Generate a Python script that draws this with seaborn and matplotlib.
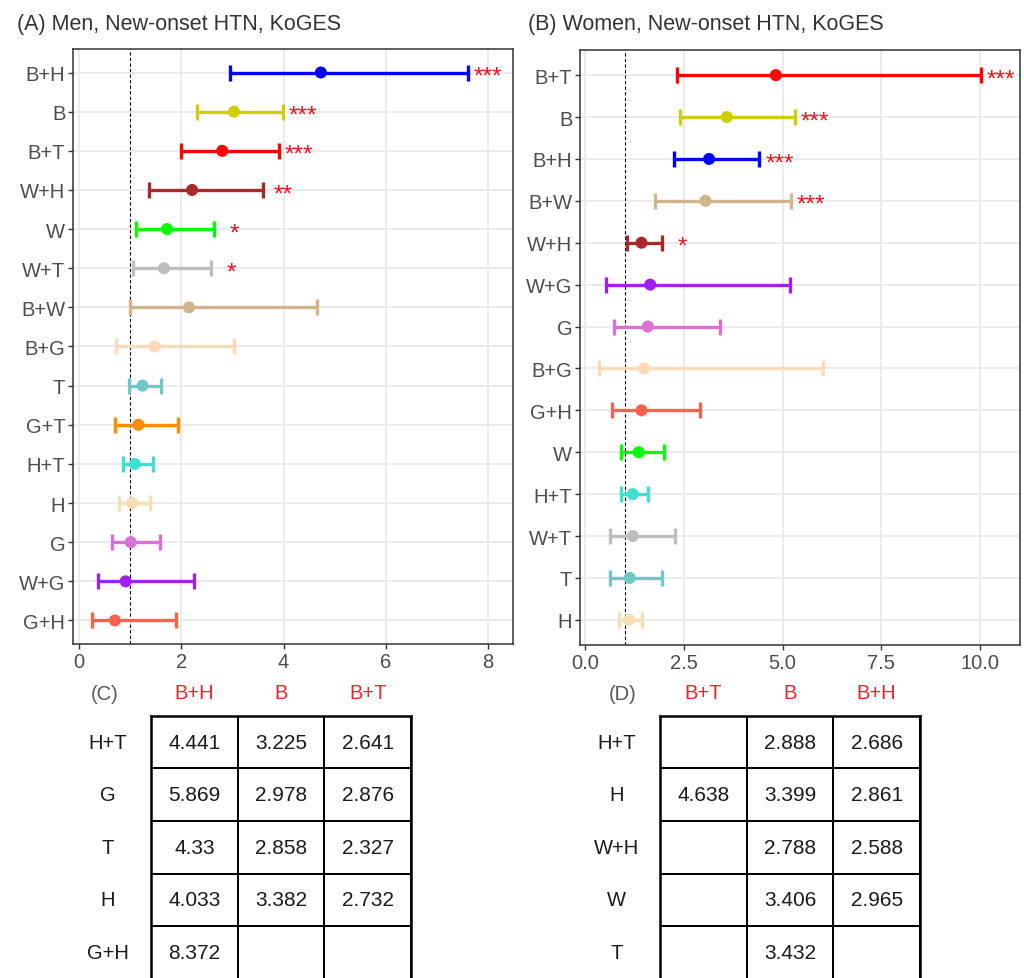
import numpy as np
import pandas as pd
import matplotlib
matplotlib.use('Agg')
import matplotlib.pyplot as plt
import seaborn as sns
from matplotlib.colors import ListedColormap

# (A) Men
men_labels = ['B+H', 'B', 'B+T', 'W+H', 'W', 'W+T', 'B+W', 'B+G', 'T', 'G+T', 'H+T', 'H', 'G', 'W+G', 'G+H']
men_or = [4.73, 3.03, 2.80, 2.21, 1.72, 1.66, 2.15, 1.48, 1.24, 1.16, 1.09, 1.04, 1.01, 0.91, 0.70]
men_low = [2.95, 2.30, 2.00, 1.36, 1.12, 1.06, 0.99, 0.73, 0.97, 0.71, 0.86, 0.78, 0.65, 0.36, 0.25]
men_high = [7.61, 3.98, 3.91, 3.59, 2.64, 2.58, 4.65, 3.03, 1.61, 1.93, 1.44, 1.38, 1.59, 2.24, 1.89]
men_sig = ['***', '***', '***', '**', '*', '*', '', '', '', '', '', '', '', '', '']

# (B) Women
women_labels = ['B+T', 'B', 'B+H', 'B+W', 'W+H', 'W+G', 'G', 'B+G', 'G+H', 'W', 'H+T', 'W+T', 'T', 'H']
women_or = [4.83, 3.59, 3.14, 3.05, 1.43, 1.65, 1.59, 1.49, 1.43, 1.36, 1.21, 1.21, 1.13, 1.12]
women_low = [2.32, 2.41, 2.25, 1.78, 1.06, 0.52, 0.74, 0.36, 0.69, 0.91, 0.91, 0.62, 0.64, 0.87]
women_high = [10.02, 5.32, 4.41, 5.21, 1.95, 5.20, 3.42, 6.02, 2.91, 2.01, 1.60, 2.27, 1.96, 1.45]
women_sig = ['***', '***', '***', '***', '*', '', '', '', '', '', '', '', '', '']

# tables (C) and (D)
tab_c_rows = ['H+T', 'G', 'T', 'H', 'G+H']
tab_c_cols = ['B+H', 'B', 'B+T']
tab_c_vals = [['4.441', '3.225', '2.641'],
              ['5.869', '2.978', '2.876'],
              ['4.33', '2.858', '2.327'],
              ['4.033', '3.382', '2.732'],
              ['8.372', '', '']]

tab_d_rows = ['H+T', 'H', 'W+H', 'W', 'T']
tab_d_cols = ['B+T', 'B', 'B+H']
tab_d_vals = [['', '2.888', '2.686'],
              ['4.638', '3.399', '2.861'],
              ['', '2.788', '2.588'],
              ['', '3.406', '2.965'],
              ['', '3.432', '']]

pal = {'B+H': '#0000FF', 'B': '#CDCD00', 'B+T': '#FF0000', 'W+H': '#A52A2A',
       'W': '#00FF00', 'W+T': '#BEBEBE', 'B+W': '#D2B48C', 'B+G': '#FFDAB9',
       'T': '#6EC8C8', 'G+T': '#FF8C00', 'H+T': '#40E0D0', 'H': '#F5DEB3',
       'G': '#DA70D6', 'W+G': '#A020F0', 'G+H': '#FF6347'}

sns.set_style('white')
plt.rcParams['font.family'] = ['Liberation Sans', 'DejaVu Sans']

fig = plt.figure(figsize=(10.24, 9.79), dpi=100)


def forest(ax, labels, orr, low, high, sig, xlim, xticks, xlabels):
    n = len(labels)
    df = pd.DataFrame({'label': labels, 'or': orr, 'low': low, 'high': high, 'sig': sig})
    df['pos'] = np.arange(n)[::-1]

    for x in xticks:
        ax.axvline(x, color='#EBEBEB', lw=1.4, zorder=0)
    for y in df['pos']:
        ax.axhline(y, color='#EBEBEB', lw=1.4, zorder=0)
    ax.axvline(1, color='black', ls=(0, (3, 2)), lw=0.8, zorder=1)

    for _, r in df.iterrows():
        ax.errorbar(r['or'], r['pos'], xerr=[[r['or'] - r['low']], [r['high'] - r['or']]],
                    fmt='none', ecolor=pal[r['label']], elinewidth=2.4,
                    capsize=5.6, capthick=2.4, zorder=3)
        if r['sig']:
            # stars next to the upper bound
            ax.annotate(r['sig'], xy=(r['high'], r['pos']), xytext=(14.5, -3),
                        textcoords='offset points', ha='center', va='center',
                        color='#F0141E', fontsize=17.5)
    sns.scatterplot(data=df, x='or', y='pos', hue='label', palette=pal, s=75,
                    linewidth=0, legend=False, ax=ax, zorder=4)

    ax.set_xlim(xlim)
    ax.set_ylim(-0.6, n - 1 + 0.6)
    ax.set_xticks(xticks)
    ax.set_xticklabels(xlabels)
    ax.set_yticks(df['pos'])
    ax.set_yticklabels(df['label'])
    ax.set_xlabel('')
    ax.set_ylabel('')
    for s in ax.spines.values():
        s.set_visible(True)
        s.set_color('#333333')
        s.set_linewidth(1.1)
    ax.tick_params(axis='both', length=3.5, width=1, color='#333333',
                   labelcolor='#4D4D4D', labelsize=14.5, pad=2,
                   bottom=True, left=True)


ax_a = fig.add_axes([0.0713, 0.3412, 0.4297, 0.6077])
forest(ax_a, men_labels, men_or, men_low, men_high, men_sig,
       (-0.12, 8.49), [0, 2, 4, 6, 8], ['0', '2', '4', '6', '8'])

ax_b = fig.add_axes([0.5664, 0.3402, 0.4297, 0.6077])
forest(ax_b, women_labels, women_or, women_low, women_high, women_sig,
       (-0.127, 11.01), [0, 2.5, 5, 7.5, 10], ['0.0', '2.5', '5.0', '7.5', '10.0'])

fig.text(17 / 1024, 1 - 30 / 979, '(A) Men, New-onset HTN, KoGES', fontsize=15.5,
         color='#333333', va='baseline')
fig.text(528 / 1024, 1 - 30 / 979, '(B) Women, New-onset HTN, KoGES', fontsize=15.5,
         color='#333333', va='baseline')


def table(ax, rows, cols, vals, tag, tag_x):
    vals = np.array(vals)
    sns.heatmap(np.zeros(vals.shape), annot=vals, fmt='', cmap=ListedColormap(['white']),
                cbar=False, linewidths=1.1, linecolor='black', xticklabels=False,
                yticklabels=False, ax=ax, annot_kws={'size': 15, 'color': '#1A1A1A'})
    for s in ax.spines.values():
        s.set_visible(True)
        s.set_color('black')
        s.set_linewidth(1.8)
    for i, r in enumerate(rows):
        ax.text(-0.5, i + 0.5, r, ha='center', va='center', fontsize=14.5, color='#1A1A1A')
    for j, c in enumerate(cols):
        ax.text(j + 0.5, -0.45, c, ha='center', va='center', fontsize=14.5, color='#E8262B')
    ax.text(tag_x, -0.42, tag, ha='center', va='center', fontsize=14.5, color='#555555')


ax_c = fig.add_axes([151 / 1024, -0.0008, 260 / 1024, 0.2687])
table(ax_c, tab_c_rows, tab_c_cols, tab_c_vals, '(C)', -0.53)

ax_d = fig.add_axes([660 / 1024, -0.0008, 260 / 1024, 0.2687])
table(ax_d, tab_d_rows, tab_d_cols, tab_d_vals, '(D)', -0.43)

fig.savefig('out.png', dpi=100)
